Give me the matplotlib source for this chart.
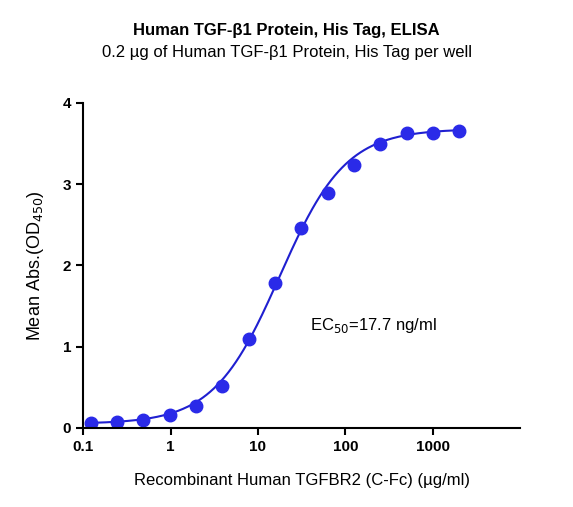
import numpy as np
import matplotlib
matplotlib.use("Agg")
import matplotlib.pyplot as plt

plt.rcParams['font.family'] = ['Liberation Sans', 'DejaVu Sans']

conc = [0.122, 0.244, 0.488, 0.977, 1.95, 3.9, 7.8, 15.6, 31.25, 62.5, 125, 250, 500, 1000, 2000]
od = [0.06, 0.07, 0.10, 0.16, 0.27, 0.52, 1.09, 1.78, 2.46, 2.89, 3.24, 3.50, 3.63, 3.63, 3.66]
xticks = [0.1, 1, 10, 100, 1000]
xticklabels = ["0.1", "1", "10", "100", "1000"]
yticks = [0, 1, 2, 3, 4]
bottom, top, ec50, hill = 0.05, 3.68, 17.7, 1.15

fig = plt.figure(figsize=(5.73, 5.07), dpi=100)
ax = fig.add_axes([0.145, 0.156, 0.763, 0.641])
xs = np.logspace(np.log10(0.122), np.log10(2000), 300)
ys = bottom + (top - bottom) / (1 + (ec50 / xs) ** hill)
ax.plot(xs, ys, color='#1f1fd0', lw=1.5)
ax.plot(conc, od, 'o', color='#2a2ae8', ms=9)
ax.set_xscale('log')
ax.set_xlim(0.1, 10000)
ax.set_ylim(0, 4)
ax.set_xticks(xticks)
ax.set_xticklabels(xticklabels)
ax.minorticks_off()
ax.set_yticks(yticks)
for s in ['top', 'right']:
    ax.spines[s].set_visible(False)
for s in ['left', 'bottom']:
    ax.spines[s].set_linewidth(1.5)
ax.tick_params(width=1.5, length=5, labelsize=11)
for lab in ax.get_xticklabels() + ax.get_yticklabels():
    lab.set_fontweight('bold')
ax.set_xlabel('Recombinant Human TGFBR2 (C-Fc) (µg/ml)', fontsize=12, labelpad=14)
ax.set_ylabel('Mean Abs.(OD$_{450}$)', fontsize=13, labelpad=12)
ax.text(0.52, 0.3, 'EC$_{50}$=17.7 ng/ml', transform=ax.transAxes, fontsize=12)
fig.text(0.5, 0.93, 'Human TGF-β1 Protein, His Tag, ELISA', ha='center', fontsize=12, fontweight='bold')
fig.text(0.5, 0.888, '0.2 µg of Human TGF-β1 Protein, His Tag per well', ha='center', fontsize=12)
fig.savefig('out.png', dpi=100)
